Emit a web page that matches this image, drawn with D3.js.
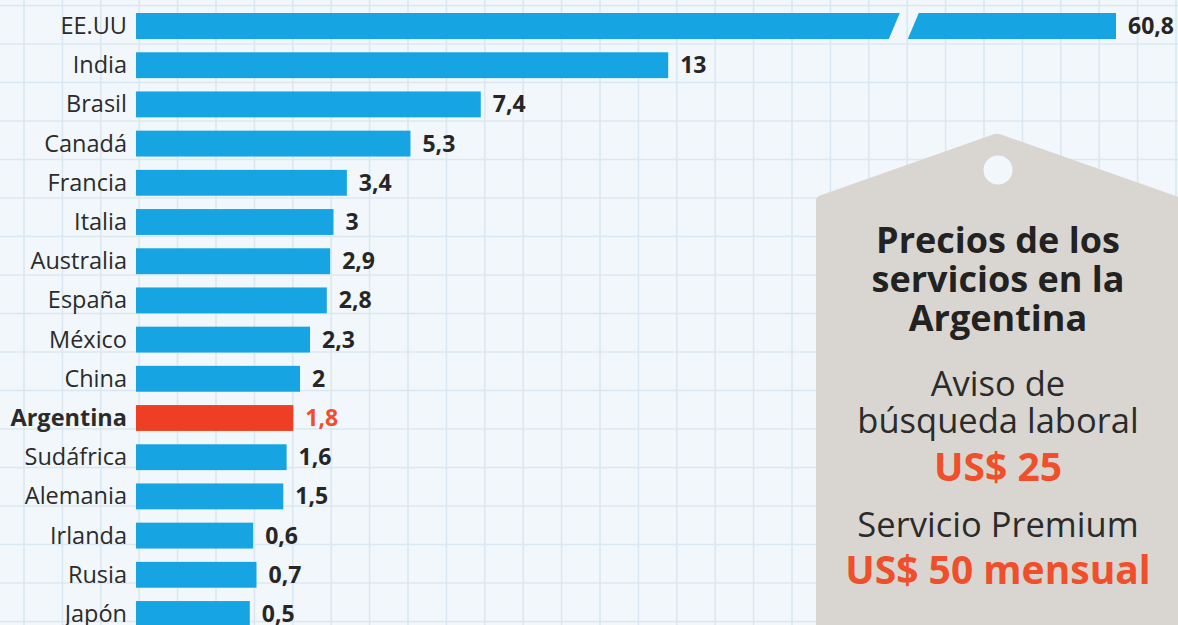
<!DOCTYPE html>
<html>
<head>
<meta charset="utf-8">
<script src="https://cdn.jsdelivr.net/npm/d3@7"></script>
<style>
  body { margin: 0; background: #f1f7fb; }
  svg { display: block; }
</style>
</head>
<body>
<div id="chart"></div>
<script>
// data
var countries = ["EE.UU", "India", "Brasil", "Canadá", "Francia", "Italia", "Australia", "España",
                 "México", "China", "Argentina", "Sudáfrica", "Alemania", "Irlanda", "Rusia", "Japón"];
var values = [60.8, 13, 7.4, 5.3, 3.4, 3, 2.9, 2.8, 2.3, 2, 1.8, 1.6, 1.5, 0.6, 0.7, 0.5];
var highlight = "Argentina";

var tagTitle = ["Precios de los", "servicios en la", "Argentina"];
var tagLines = [
  {text: "Aviso de", price: false},
  {text: "búsqueda laboral", price: false},
  {text: "US$ 25", price: true},
  {text: "Servicio Premium", price: false},
  {text: "US$ 50 mensual", price: true}
];

var width = 1178, height = 625;
var blue = "#16a4e2", red = "#ee3f24", redText = "#ef4f2a";

var svg = d3.select("#chart")
  .append("svg")
    .attr("width", width)
    .attr("height", height);

// background grid
svg.append("rect").attr("width", width).attr("height", height).attr("fill", "#f1f7fb");
svg.append("g")
  .selectAll("line")
  .data(d3.range(0, 32))
  .enter().append("line")
    .attr("x1", function(i) { return 24 + i * 38.4; })
    .attr("x2", function(i) { return 24 + i * 38.4; })
    .attr("y1", 0).attr("y2", height)
    .attr("stroke", "#dbe8f1").attr("stroke-width", 1.6);
svg.append("g")
  .selectAll("line")
  .data(d3.range(0, 17))
  .enter().append("line")
    .attr("y1", function(i) { return 5.5 + i * 38.5; })
    .attr("y2", function(i) { return 5.5 + i * 38.5; })
    .attr("x1", 0).attr("x2", width)
    .attr("stroke", "#dbe8f1").attr("stroke-width", 1.6);

// scales: bars start at a stub (axis min below zero), EE.UU is broken
var axisMin = -2.9, breakAt = 20.25;
var x = d3.scaleLinear()
    .domain([axisMin, 20, 60.8])
    .range([136, 902.5, 1116]);
var y = d3.scaleBand()
    .domain(countries)
    .range([6.4, 6.4 + 39.2 * countries.length])
    .paddingInner(0.34)
    .paddingOuter(0.17);

var fmt = d3.formatLocale({decimal: ",", thousands: ".", grouping: [3], currency: ["$", ""]}).format("~g");

var data = countries.map(function(c, i) { return {name: c, value: values[i]}; });

// bars
var bars = svg.append("g");
data.forEach(function(d) {
  var y0 = y(d.name), y1 = y0 + y.bandwidth();
  var col = d.name === highlight ? red : blue;
  if (d.value > breakAt + 5) {
    var xb = x(breakAt), skew = 5.5, gap = 9.5;
    bars.append("path")
      .attr("d", "M" + x(axisMin) + "," + y0 + "L" + (xb - gap + skew) + "," + y0 +
                 "L" + (xb - gap - skew) + "," + y1 + "L" + x(axisMin) + "," + y1 + "Z")
      .attr("fill", col);
    bars.append("path")
      .attr("d", "M" + (xb + gap + skew) + "," + y0 + "L" + x(d.value) + "," + y0 +
                 "L" + x(d.value) + "," + y1 + "L" + (xb + gap - skew) + "," + y1 + "Z")
      .attr("fill", col);
  } else {
    bars.append("rect")
      .attr("x", x(axisMin))
      .attr("y", y0)
      .attr("width", x(d.value) - x(axisMin))
      .attr("height", y.bandwidth())
      .attr("fill", col);
  }
});

// category labels
svg.append("g")
  .selectAll("text")
  .data(data)
  .enter().append("text")
    .attr("x", 127)
    .attr("y", function(d) { return y(d.name) + y.bandwidth() / 2; })
    .attr("dy", "0.34em")
    .attr("text-anchor", "end")
    .style("font-family", "'Open Sans', sans-serif")
    .style("font-size", "23.5px")
    .style("font-weight", function(d) { return d.name === highlight ? 700 : 400; })
    .style("fill", "#2b2b2b")
    .text(function(d) { return d.name; });

// value labels
svg.append("g")
  .selectAll("text")
  .data(data)
  .enter().append("text")
    .attr("x", function(d) { return x(d.value) + 12; })
    .attr("y", function(d) { return y(d.name) + y.bandwidth() / 2; })
    .attr("dy", "0.35em")
    .style("font-family", "'Open Sans', sans-serif")
    .style("font-size", "23px")
    .style("font-weight", 700)
    .style("fill", function(d) { return d.name === highlight ? redText : "#262626"; })
    .text(function(d) { return fmt(d.value); });

// price tag
var tag = svg.append("g");
tag.append("path")
  .attr("d", "M816,640 L816,201 Q816,197 820,195.6 L993,134.4 Q997,133 1001,134.4 L1190,201 L1190,640 Z")
  .attr("fill", "#d9d6d1");
tag.append("circle")
  .attr("cx", 998).attr("cy", 170).attr("r", 14.5)
  .attr("fill", "#f1f7fb");

tag.selectAll("text.title")
  .data(tagTitle)
  .enter().append("text")
    .attr("class", "title")
    .attr("x", 998)
    .attr("y", function(d, i) { return 253 + i * 39; })
    .attr("text-anchor", "middle")
    .style("font-family", "'Open Sans', sans-serif")
    .style("font-size", "36px")
    .style("font-weight", 700)
    .style("fill", "#222")
    .text(function(d) { return d; });

var lineY = [396, 433, 481, 537, 584];
tag.selectAll("text.line")
  .data(tagLines)
  .enter().append("text")
    .attr("class", "line")
    .attr("x", 998)
    .attr("y", function(d, i) { return lineY[i]; })
    .attr("text-anchor", "middle")
    .style("font-family", "'Open Sans', sans-serif")
    .style("font-size", function(d) { return d.price ? "39px" : "34.5px"; })
    .style("font-weight", function(d) { return d.price ? 700 : 400; })
    .style("fill", function(d) { return d.price ? redText : "#2b2b2b"; })
    .text(function(d) { return d.text; });
</script>
</body>
</html>
